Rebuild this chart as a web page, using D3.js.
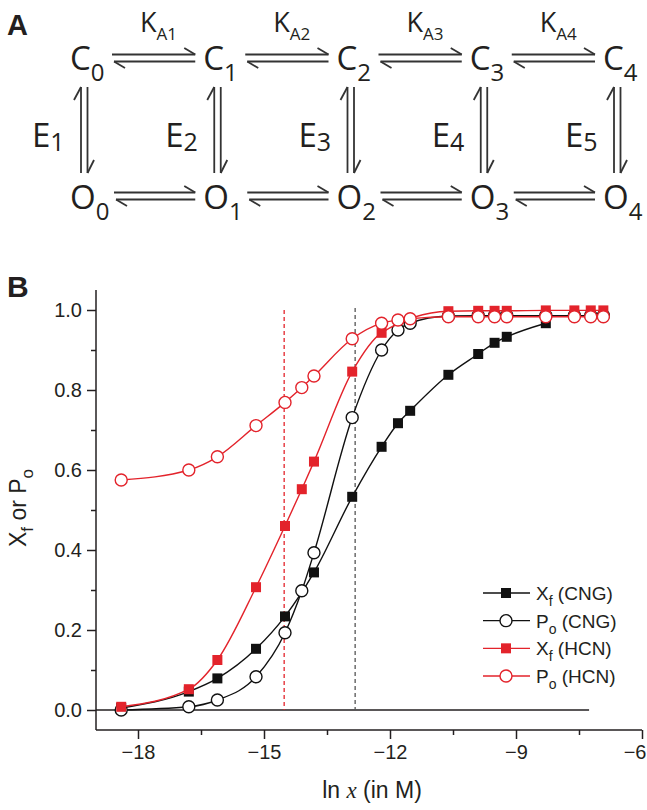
<!DOCTYPE html>
<html>
<head>
<meta charset="utf-8">
<script src="https://cdn.jsdelivr.net/npm/d3@7"></script>
<style>
  body { margin: 0; background: #fff; }
  text { font-family: "Liberation Sans", Arial, sans-serif; }
  .schema text { font-family: "Open Sans", "Noto Sans", sans-serif; }
</style>
</head>
<body>
<svg width="647" height="810"></svg>
<script>
// ---- data ----
const xfCNG_x = [-18.40, -16.79, -16.11, -15.19, -14.50, -13.81, -12.90, -12.20, -11.81, -11.52, -10.61, -9.90, -9.51, -9.22, -8.29];
const xfCNG_y = [0.005, 0.046, 0.079, 0.153, 0.234, 0.344, 0.533, 0.658, 0.717, 0.748, 0.838, 0.890, 0.918, 0.933, 0.967];

const poCNG_x = [-18.40, -16.79, -16.11, -15.19, -14.50, -14.10, -13.81, -12.90, -12.20, -11.81, -11.52, -10.61, -9.90, -9.51, -9.22, -8.29, -7.61, -7.22, -6.92];
const poCNG_y = [0.000, 0.008, 0.025, 0.083, 0.193, 0.298, 0.393, 0.731, 0.900, 0.950, 0.967, 0.985, 0.986, 0.986, 0.986, 0.986, 0.986, 0.986, 0.986];

const xfHCN_x = [-18.40, -16.79, -16.11, -15.19, -14.50, -14.10, -13.81, -12.90, -12.20, -10.61, -9.90, -9.51, -9.22, -8.29, -7.61, -7.22, -6.92];
const xfHCN_y = [0.008, 0.052, 0.125, 0.307, 0.460, 0.552, 0.621, 0.846, 0.943, 0.997, 0.998, 0.998, 0.998, 0.999, 0.999, 0.999, 0.999];

const poHCN_x = [-18.40, -16.79, -16.11, -15.19, -14.50, -14.10, -13.81, -12.90, -12.20, -11.81, -11.52, -10.61, -9.90, -9.51, -9.22, -8.29, -7.61, -7.22, -6.92];
const poHCN_y = [0.575, 0.600, 0.633, 0.711, 0.769, 0.806, 0.835, 0.928, 0.967, 0.975, 0.978, 0.983, 0.983, 0.983, 0.983, 0.983, 0.983, 0.983, 0.983];

const halfHCN = -14.52;   // red dashed marker
const halfCNG = -12.83;   // grey dashed marker
const baselineEnd = -7.26;

const xTicks = [-18, -15, -12, -9, -6];
const xMinor = [-16.5, -13.5, -10.5, -7.5];
const yTicks = [0, 0.2, 0.4, 0.6, 0.8, 1.0];
const yMinor = [0.1, 0.3, 0.5, 0.7, 0.9];

const legendNames = [["X", "f", "CNG"], ["P", "o", "CNG"], ["X", "f", "HCN"], ["P", "o", "HCN"]];

// scheme (panel A)
const nodeIdx = [0, 1, 2, 3, 4];
const kLabels = ["A1", "A2", "A3", "A4"];
const eLabels = ["1", "2", "3", "4", "5"];

const RED = "#e3232b";
const INK = "#231f20";
const svg = d3.select("svg");

// ================= panel A =================
const A = svg.append("g").attr("class", "schema");
svg.append("text").attr("x", 7).attr("y", 35)
  .attr("font-size", 29).attr("font-weight", "bold").attr("fill", INK).text("A");

const nx = d3.scalePoint().domain(nodeIdx).range([70, 603]);
const rowC = 70, rowO = 209;

function species(letter, i, base) {
  const t = A.append("text").attr("x", nx(i)).attr("y", base).attr("font-size", 33).attr("fill", INK);
  t.append("tspan").text(letter);
  t.append("tspan").attr("font-size", 24).attr("dy", 11).text(i);
}
nodeIdx.forEach(i => { species("C", i, rowC); species("O", i, rowO); });

const ln = (x1, y1, x2, y2) => A.append("line")
  .attr("x1", x1).attr("y1", y1).attr("x2", x2).attr("y2", y2)
  .attr("stroke", "#333").attr("stroke-width", 1.8);

function hArrows(x1, x2, y) {
  ln(x1, y - 3.5, x2, y - 3.5); ln(x2, y - 3.5, x2 - 11, y - 10);
  ln(x1 + 2, y + 3.5, x2, y + 3.5); ln(x1 + 2, y + 3.5, x1 + 13, y + 10);
}
function vArrows(x, y1, y2) {
  ln(x, y1, x, y2); ln(x, y1, x - 7, y1 + 13);
  ln(x + 6.5, y1, x + 6.5, y2); ln(x + 6.5, y2, x + 13, y2 - 13);
}
nodeIdx.slice(0, 4).forEach(i => {
  hArrows(nx(i) + 42, nx(i + 1) - 8, 58);
  hArrows(nx(i) + 44, nx(i + 1) - 8, 196);
  const k = A.append("text").attr("x", nx(i) + 70).attr("y", 32).attr("font-size", 27).attr("fill", INK);
  k.append("tspan").text("K");
  k.append("tspan").attr("font-size", 17).attr("dy", 8).text(kLabels[i]);
});
nodeIdx.forEach(i => {
  vArrows(nx(i) + 11, 87, 173);
  const e = A.append("text").attr("x", nx(i) - 38).attr("y", 147).attr("font-size", 33).attr("fill", INK);
  e.append("tspan").text("E");
  e.append("tspan").attr("font-size", 25).attr("dy", 4).text(eLabels[i]);
});

// ================= panel B =================
svg.append("text").attr("x", 7).attr("y", 297)
  .attr("font-size", 30).attr("font-weight", "bold").attr("fill", INK).text("B");

const x = d3.scaleLinear().domain([-19, -6]).range([96, 642]);
const y = d3.scaleLinear().domain([-0.05, 1.05]).range([730, 290]);

const g = svg.append("g");

// axes
const xAxis = g.append("g").attr("transform", "translate(0,730)")
  .call(d3.axisBottom(x).tickValues(xTicks).tickSize(9).tickPadding(6).tickFormat(d3.format("d")));
g.append("g").attr("transform", "translate(0,730)")
  .call(d3.axisBottom(x).tickValues(xMinor).tickSize(5).tickFormat(""))
  .call(s => s.select(".domain").remove());
const yAxis = g.append("g").attr("transform", "translate(96,0)")
  .call(d3.axisLeft(y).tickValues(yTicks).tickSize(9).tickPadding(5).tickFormat(d3.format(".1f")));
g.append("g").attr("transform", "translate(96,0)")
  .call(d3.axisLeft(y).tickValues(yMinor).tickSize(5).tickFormat(""))
  .call(s => s.select(".domain").remove());
xAxis.select(".domain").remove();
yAxis.select(".domain").remove();
g.append("line").attr("x1", x(-19)).attr("x2", x(-6)).attr("y1", 730).attr("y2", 730).attr("stroke", INK).attr("stroke-width", 1.5);
g.append("line").attr("x1", 96).attr("x2", 96).attr("y1", 290).attr("y2", 730).attr("stroke", INK).attr("stroke-width", 1.5);
g.selectAll(".tick line").attr("stroke", INK).attr("stroke-width", 1.5);
g.selectAll(".tick text").attr("font-size", 20).attr("fill", INK)
  .style("font-family", "Liberation Sans, Arial, sans-serif");
// last x label sits at the picture edge
xAxis.selectAll(".tick text").filter(d => d === -6).attr("text-anchor", "end").attr("x", 4);

// baseline at 0
g.append("line").attr("x1", x(-19)).attr("x2", x(baselineEnd))
  .attr("y1", y(0)).attr("y2", y(0)).attr("stroke", INK).attr("stroke-width", 1.3);

// dashed markers
g.append("line").attr("x1", x(halfHCN)).attr("x2", x(halfHCN)).attr("y1", y(1.0)).attr("y2", y(0))
  .attr("stroke", RED).attr("stroke-width", 1.3).attr("stroke-dasharray", "4,3");
g.append("line").attr("x1", x(halfCNG)).attr("x2", x(halfCNG)).attr("y1", y(1.005)).attr("y2", y(0))
  .attr("stroke", "#555").attr("stroke-width", 1.3).attr("stroke-dasharray", "4,3");

// series
const line = d3.line().curve(d3.curveMonotoneX).x(d => x(d[0])).y(d => y(d[1]));
const series = [
  { xs: xfCNG_x, ys: xfCNG_y, color: "#111", shape: "square" },
  { xs: poCNG_x, ys: poCNG_y, color: "#111", shape: "circle" },
  { xs: xfHCN_x, ys: xfHCN_y, color: RED, shape: "square" },
  { xs: poHCN_x, ys: poHCN_y, color: RED, shape: "circle" }
];

function marker(sel, shape, color, cx, cy) {
  if (shape === "square") {
    sel.append("rect").attr("x", cx - 5).attr("y", cy - 5).attr("width", 10).attr("height", 10).attr("fill", color);
  } else {
    sel.append("circle").attr("cx", cx).attr("cy", cy).attr("r", 6)
      .attr("fill", "#fff").attr("stroke", color).attr("stroke-width", 1.4);
  }
}

series.forEach(s => {
  const pts = s.xs.map((v, i) => [v, s.ys[i]]);
  g.append("path").datum(pts).attr("d", line).attr("fill", "none")
    .attr("stroke", s.color).attr("stroke-width", 1.4);
  const mg = g.append("g");
  pts.forEach(p => marker(mg, s.shape, s.color, x(p[0]), y(p[1])));
});

// legend
const leg = g.append("g");
const rowY = d3.scalePoint().domain(d3.range(4)).range([593, 676]);
legendNames.forEach((n, i) => {
  const s = series[i], ry = rowY(i);
  leg.append("line").attr("x1", 483).attr("x2", 530).attr("y1", ry).attr("y2", ry)
    .attr("stroke", s.color).attr("stroke-width", 1.4);
  marker(leg, s.shape, s.color, 506, ry);
  const t = leg.append("text").attr("x", 536).attr("y", ry + 7).attr("font-size", 19).attr("fill", INK);
  t.append("tspan").text(n[0]);
  t.append("tspan").attr("font-size", 14).attr("dy", 6).text(n[1]);
  t.append("tspan").attr("dy", -6).text(" (" + n[2] + ")");
});

// axis titles
const yt = g.append("text").attr("transform", "translate(26,508) rotate(-90)")
  .attr("text-anchor", "middle").attr("font-size", 23).attr("fill", INK);
yt.append("tspan").text("X");
yt.append("tspan").attr("font-size", 17).attr("dy", 7).text("f");
yt.append("tspan").attr("dy", -7).text(" or P");
yt.append("tspan").attr("font-size", 17).attr("dy", 7).text("o");

const xt = g.append("text").attr("x", 372).attr("y", 798)
  .attr("text-anchor", "middle").attr("font-size", 23).attr("fill", INK);
xt.append("tspan").text("ln ");
xt.append("tspan").style("font-family", "Liberation Serif, serif").attr("font-style", "italic").text("x");
xt.append("tspan").text(" (in M)");
</script>
</body>
</html>
